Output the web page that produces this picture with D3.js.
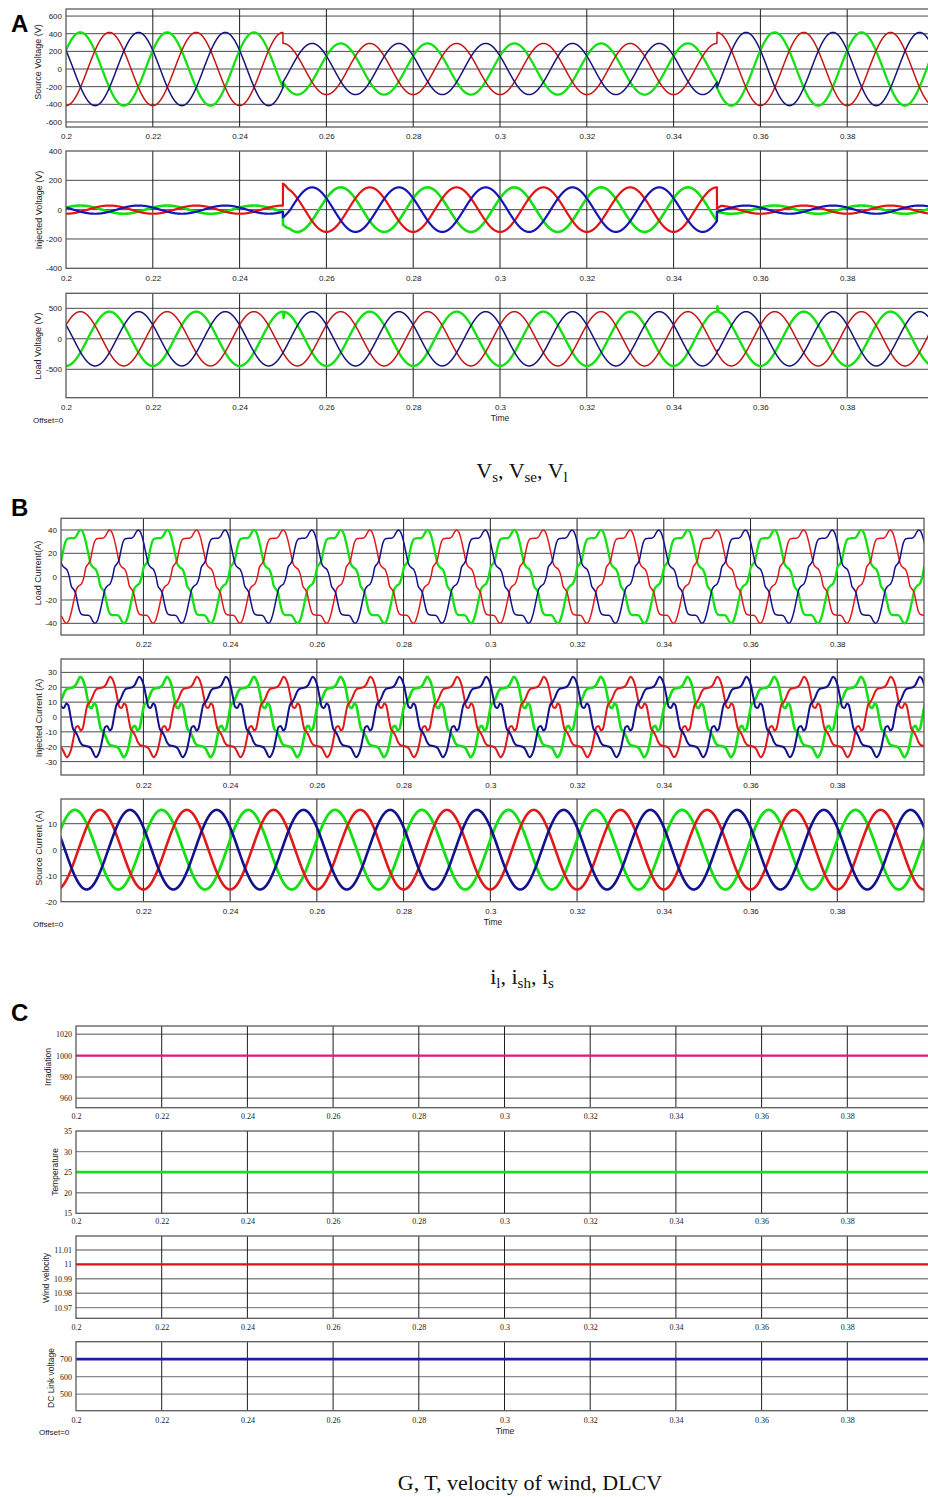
<!DOCTYPE html>
<html>
<head>
<meta charset="utf-8">
<script src="https://cdn.jsdelivr.net/npm/d3@7"></script>
<style>
  html, body { margin: 0; padding: 0; background: #fff; }
  svg { display: block; }
</style>
</head>
<body>
<svg id="fig" width="928" height="1497"></svg>
<script>
// ---------------------------------------------------------------
// Simulation traces: UPQC with PV / wind source, 0.2 s – 0.4 s
// ---------------------------------------------------------------
const FREQ = 50;                       // grid frequency, Hz
const T_START = 0.2, T_END = 0.4;      // simulated window, s
const SAG_START = 0.25, SAG_END = 0.35;

// phase order in every array: [red, green, blue]
// sinusoidal traces: crest time (s) and amplitude per interval [before sag, sag, after sag]
const sourceVoltPeak = [0.2100, 0.2033, 0.2167];
const sourceVoltAmp  = [415, 290, 415];
const injVoltPeak    = [0.2100, 0.2033, 0.2167];
const injVoltAmp     = [28, 152, 28];
const loadVoltPeak   = [0.2033, 0.2100, 0.2167];
const loadVoltAmp    = [445, 445, 445];

// switching transients: [time, phase, offset, decay time]
const injVoltKicks  = [[0.25, 0, 26, 0.0012], [0.25, 1, -26, 0.0016], [0.25, 2, 24, 0.0016],
                       [0.35, 0, -20, 0.0010]];
const loadVoltKicks = [[0.2501, 1, -105, 0.0003], [0.3501, 1, 90, 0.0003], [0.3501, 2, 30, 0.0002]];

// non-sinusoidal currents: one cycle, [angle from crest (deg), value (A)] for the first half;
// the second half is the negative mirror (half-wave symmetry)
const loadCurrHalf = [[0, 40], [10, 38], [18, 33], [26, 26], [34, 18], [42, 11], [52, 8],
                      [64, 6], [74, 0], [82, -8], [92, -11], [100, -14], [108, -22], [116, -29],
                      [126, -32.5], [140, -33], [152, -33], [162, -34.5], [171, -38]];
const loadCurrPeak = [0.2122, 0.2055, 0.2188];
const injCurrHalf  = [[0, 27], [10, 25.5], [20, 21], [30, 13], [38, 7], [48, 6], [58, 9],
                      [66, 8], [76, 0], [86, -8], [96, -10], [106, -13], [116, -17], [126, -19],
                      [140, -19.5], [152, -20], [162, -21.5], [171, -24.5]];
const injCurrPeak  = [0.2123, 0.2054, 0.2190];
const srcCurrPeak  = [0.2100, 0.2042, 0.2169];
const srcCurrAmp   = [15.3, 15.3, 15.3];

// constant operating inputs
const irradiation   = 1000;   // W/m²
const temperature   = 25;     // °C
const windVelocity  = 11;     // m/s
const dcLinkVoltage = 700;    // V

// axis ticks
const timeTicks      = [0.2, 0.22, 0.24, 0.26, 0.28, 0.3, 0.32, 0.34, 0.36, 0.38];
const timeTicksB     = [0.22, 0.24, 0.26, 0.28, 0.3, 0.32, 0.34, 0.36, 0.38];
const srcVoltTicks   = [600, 400, 200, 0, -200, -400, -600];
const injVoltTicks   = [400, 200, 0, -200, -400];
const loadVoltTicks  = [500, 0, -500];
const loadCurrTicks  = [40, 20, 0, -20, -40];
const injCurrTicks   = [30, 20, 10, 0, -10, -20, -30];
const srcCurrTicks   = [10, 0, -10, -20];
const irrTicks       = [1020, 1000, 980, 960];
const tempTicks      = [35, 30, 25, 20, 15];
const windTicks      = [11.01, 11, 10.99, 10.98, 10.97];
const dcTicks        = [700, 600, 500];

// ---------------------------------------------------------------
const SANS  = "'Liberation Sans', Arial, Helvetica, sans-serif";
const SERIF = "'Liberation Serif', 'Times New Roman', Times, serif";
const RED_A = "#c41616", GREEN = "#14e014", NAVY_A = "#15157a";
const RED_B = "#e01a1a", NAVY_B = "#12128e";

const svg  = d3.select("#fig");
const defs = svg.append("defs");

const DT = 0.00002;
const times = d3.range(T_START - 0.001, T_END + 0.001, DT);
const omega = 2 * Math.PI * FREQ;

function segAmp(amps, t) {
  return t < SAG_START ? amps[0] : (t < SAG_END ? amps[1] : amps[2]);
}
function kickAt(kicks, ph, t) {
  let v = 0;
  for (const [t0, p, off, dur] of kicks) {
    if (p === ph && t >= t0 && t < t0 + dur) v += off * (1 - (t - t0) / dur);
  }
  return v;
}
function sinePhase(peaks, amps, ph, kicks) {
  return times.map(t => [t, segAmp(amps, t) * Math.cos(omega * (t - peaks[ph])) + (kicks ? kickAt(kicks, ph, t) : 0)]);
}
// repeat a half-wave-symmetric cycle over the window, anchored at the crest time
function cyclePhase(half, peak) {
  const cycle = half.map(d => [d[0], d[1]]).concat(half.map(d => [d[0] + 180, -d[1]]));
  const period = 1 / FREQ;
  const pts = [];
  for (let k = -13; k <= 13; k++) {
    for (const [ang, val] of cycle) {
      const t = peak + (k + ang / 360) * period;
      if (t >= T_START - 0.004 && t <= T_END + 0.004) pts.push([t, val]);
    }
  }
  return pts.sort((a, b) => a[0] - b[0]);
}

let clipCount = 0;
function drawPanel(p) {
  const x = d3.scaleLinear().domain([p.t0, p.t1]).range([p.left, p.right]);
  const y = d3.scaleLinear().domain(p.yDomain).range([p.bottom, p.top]);
  const g = svg.append("g");
  const clipId = "clip" + (clipCount++);
  defs.append("clipPath").attr("id", clipId).append("rect")
    .attr("x", p.left).attr("y", p.top)
    .attr("width", p.right - p.left).attr("height", p.bottom - p.top);

  // horizontal grid
  g.append("g").selectAll("line")
    .data(p.yTicks.filter(v => y(v) > p.top + 0.8 && y(v) < p.bottom - 0.8))
    .join("line")
    .attr("x1", p.left).attr("x2", p.right)
    .attr("y1", d => y(d)).attr("y2", d => y(d))
    .attr("stroke", p.hGrid || "#4a4a4a").attr("stroke-width", p.hGridW || 1);

  // vertical grid
  g.append("g").selectAll("line")
    .data(p.xTicks.filter(v => x(v) > p.left + 1))
    .join("line")
    .attr("x1", d => x(d)).attr("x2", d => x(d))
    .attr("y1", p.top).attr("y2", p.bottom)
    .attr("stroke", "#1e1e1e").attr("stroke-width", 1);

  // traces
  const line = d3.line().x(d => x(d[0])).y(d => y(d[1])).curve(p.curve || d3.curveLinear);
  g.append("g").attr("clip-path", `url(#${clipId})`)
    .selectAll("path").data(p.series).join("path")
    .attr("d", s => line(s.points))
    .attr("fill", "none")
    .attr("stroke", s => s.color)
    .attr("stroke-width", s => s.width)
    .attr("stroke-linejoin", "round");

  // frame
  g.append("rect")
    .attr("x", p.left).attr("y", p.top)
    .attr("width", p.right - p.left).attr("height", p.bottom - p.top)
    .attr("fill", "none").attr("stroke", "#5a5a5a").attr("stroke-width", 1.3);

  // y axis labels
  g.append("g").attr("transform", `translate(${p.left},0)`)
    .call(d3.axisLeft(y).tickValues(p.yTicks).tickSize(0).tickPadding(p.yPad || 4).tickFormat(d => String(d)))
    .call(a => a.select(".domain").remove())
    .attr("font-family", p.font).attr("font-size", p.fontSize)
    .selectAll("text").attr("fill", "#1a1a1a");

  // x axis labels
  g.append("g").attr("transform", `translate(0,${p.bottom})`)
    .call(d3.axisBottom(x).tickValues(p.xTicks).tickSize(0).tickPadding(p.xPad).tickFormat(d => String(d)))
    .call(a => a.select(".domain").remove())
    .attr("font-family", p.font).attr("font-size", p.fontSize)
    .selectAll("text").attr("fill", "#1a1a1a");

  // y title
  g.append("text")
    .attr("transform", `translate(${p.titleX},${p.titleY}) rotate(-90)`)
    .attr("text-anchor", "middle").attr("dominant-baseline", "middle")
    .attr("font-family", SANS).attr("font-size", p.titleSize || 9).attr("fill", "#222")
    .text(p.title);
}

function note(text, xPos, yPos, size, anchor) {
  svg.append("text").attr("x", xPos).attr("y", yPos)
    .attr("text-anchor", anchor || "start").attr("dominant-baseline", "middle")
    .attr("font-family", SANS).attr("font-size", size).attr("fill", "#222").text(text);
}
function panelLetter(letter, xPos, yPos) {
  svg.append("text").attr("x", xPos).attr("y", yPos)
    .attr("font-family", SANS).attr("font-weight", "bold").attr("font-size", 24)
    .attr("fill", "#000").text(letter);
}
// caption pieces: [main text, subscript]
function caption(parts, cx, yPos) {
  const t = svg.append("text").attr("x", cx).attr("y", yPos).attr("text-anchor", "middle")
    .attr("font-family", SERIF).attr("font-size", 22).attr("fill", "#111");
  let lowered = false;
  parts.forEach(([main, sub]) => {
    t.append("tspan").attr("dy", lowered ? -4 : 0).text(main);
    lowered = false;
    if (sub) {
      t.append("tspan").attr("font-size", 15).attr("dy", 4).text(sub);
      lowered = true;
    }
  });
}

// ------------------------- panel A -------------------------
panelLetter("A", 11, 32);
const srcV  = [0, 1, 2].map(ph => sinePhase(sourceVoltPeak, sourceVoltAmp, ph));
const injV  = [0, 1, 2].map(ph => sinePhase(injVoltPeak, injVoltAmp, ph, injVoltKicks));
const loadV = [0, 1, 2].map(ph => sinePhase(loadVoltPeak, loadVoltAmp, ph, loadVoltKicks));

const panelA = { t0: 0.2, t1: 0.4, left: 66, right: 934, xTicks: timeTicks, font: SANS, fontSize: 8 };
drawPanel(Object.assign({}, panelA, {
  top: 9, bottom: 127, yDomain: [-657, 680], yTicks: srcVoltTicks, xPad: 6,
  title: "Source Voltage (V)", titleX: 39, titleY: 62,
  series: [
    { points: srcV[1], color: GREEN,  width: 2.3 },
    { points: srcV[0], color: RED_A,  width: 1.5 },
    { points: srcV[2], color: NAVY_A, width: 1.5 }
  ]
}));
drawPanel(Object.assign({}, panelA, {
  top: 151, bottom: 268.3, yDomain: [-400, 400], yTicks: injVoltTicks, xPad: 7,
  title: "Injected Voltage (V)", titleX: 40, titleY: 210,
  series: [
    { points: injV[1], color: GREEN,  width: 2.6 },
    { points: injV[0], color: "#e41414", width: 2.2 },
    { points: injV[2], color: "#1616b4", width: 2.2 }
  ]
}));
drawPanel(Object.assign({}, panelA, {
  top: 293.3, bottom: 397.7, yDomain: [-966, 746], yTicks: loadVoltTicks, xPad: 7,
  title: "Load Voltage (V)", titleX: 39, titleY: 346,
  series: [
    { points: loadV[1], color: GREEN,  width: 2.4 },
    { points: loadV[0], color: RED_A,  width: 1.5 },
    { points: loadV[2], color: NAVY_A, width: 1.5 }
  ]
}));
note("Offset=0", 33, 421, 8);
note("Time", 500, 419, 8.5, "middle");
caption([["V", "s"], [", V", "se"], [", V", "l"]], 522, 478);

// ------------------------- panel B -------------------------
panelLetter("B", 11, 516);
const loadI = [0, 1, 2].map(ph => cyclePhase(loadCurrHalf, loadCurrPeak[ph]));
const injI  = [0, 1, 2].map(ph => cyclePhase(injCurrHalf, injCurrPeak[ph]));
const srcI  = [0, 1, 2].map(ph => sinePhase(srcCurrPeak, srcCurrAmp, ph));

const panelB = { t0: 0.201, t1: 0.4, left: 61, right: 924, xTicks: timeTicksB, font: SANS, fontSize: 8 };
drawPanel(Object.assign({}, panelB, {
  top: 518.3, bottom: 635, yDomain: [-50, 50], yTicks: loadCurrTicks, xPad: 6,
  title: "Load Current(A)", titleX: 39, titleY: 573, curve: d3.curveMonotoneX,
  series: [
    { points: loadI[1], color: GREEN,  width: 2.3 },
    { points: loadI[0], color: RED_B,  width: 1.5 },
    { points: loadI[2], color: NAVY_B, width: 1.5 }
  ]
}));
drawPanel(Object.assign({}, panelB, {
  top: 659, bottom: 775, yDomain: [-39, 39], yTicks: injCurrTicks, xPad: 7,
  title: "Injected Current (A)", titleX: 40, titleY: 718, curve: d3.curveMonotoneX,
  series: [
    { points: injI[1], color: GREEN,  width: 2.6 },
    { points: injI[0], color: RED_B,  width: 2.0 },
    { points: injI[2], color: NAVY_B, width: 2.0 }
  ]
}));
drawPanel(Object.assign({}, panelB, {
  top: 799, bottom: 901.7, yDomain: [-20, 19.5], yTicks: srcCurrTicks, xPad: 7,
  title: "Source Current (A)", titleX: 40, titleY: 848,
  series: [
    { points: srcI[1], color: GREEN,  width: 2.8 },
    { points: srcI[0], color: RED_B,  width: 2.6 },
    { points: srcI[2], color: NAVY_B, width: 2.6 }
  ]
}));
note("Offset=0", 33, 925, 8);
note("Time", 493, 923, 8.5, "middle");
caption([["i", "l"], [", i", "sh"], [", i", "s"]], 522, 984);

// ------------------------- panel C -------------------------
panelLetter("C", 11, 1021);
const flat = v => [[T_START, v], [T_END, v]];
const panelC = { t0: 0.2, t1: 0.4, left: 76, right: 933, xTicks: timeTicks, font: SERIF, fontSize: 8,
                 hGrid: "#8a8a8a", hGridW: 1.4 };
drawPanel(Object.assign({}, panelC, {
  top: 1026, bottom: 1107.7, yDomain: [951.2, 1027.8], yTicks: irrTicks, xPad: 5.5,
  title: "Irradiation", titleX: 48.5, titleY: 1067, titleSize: 8.5,
  series: [{ points: flat(irradiation), color: "#e8187f", width: 2.4 }]
}));
drawPanel(Object.assign({}, panelC, {
  top: 1131, bottom: 1213.3, yDomain: [15, 35], yTicks: tempTicks, xPad: 5.5,
  title: "Temperature", titleX: 56, titleY: 1172, titleSize: 8.5,
  series: [{ points: flat(temperature), color: GREEN, width: 2.6 }]
}));
drawPanel(Object.assign({}, panelC, {
  top: 1236, bottom: 1318.3, yDomain: [10.9626, 11.0197], yTicks: windTicks, xPad: 6,
  title: "Wind velocity", titleX: 47, titleY: 1278, titleSize: 8.5,
  series: [{ points: flat(windVelocity), color: "#e01414", width: 2.4 }]
}));
drawPanel(Object.assign({}, panelC, {
  top: 1341.7, bottom: 1410.7, yDomain: [405, 800], yTicks: dcTicks, xPad: 6.5,
  title: "DC Link voltage", titleX: 52, titleY: 1378, titleSize: 8.5,
  series: [{ points: flat(dcLinkVoltage), color: "#1c1ca6", width: 2.6 }]
}));
note("Offset=0", 39, 1433, 8);
note("Time", 505, 1432, 8.5, "middle");
caption([["G, T, velocity of wind, DLCV"]], 530, 1490);
</script>
</body>
</html>
